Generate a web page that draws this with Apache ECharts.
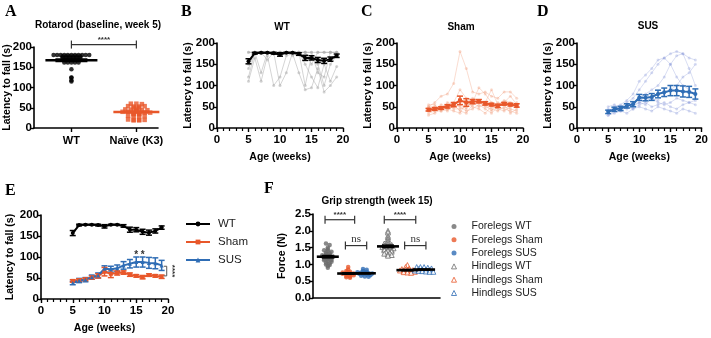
<!DOCTYPE html>
<html>
<head>
<meta charset="utf-8">
<script src="https://cdn.jsdelivr.net/npm/echarts@6/dist/echarts.min.js"></script>
<style>
  html, body { margin: 0; padding: 0; background: #fff; }
  #chart { width: 711px; height: 338px; }
</style>
</head>
<body>
<div id="chart"></div>
<script>
// ---- data ----
const weeks = [5, 6, 7, 8, 9, 10, 11, 12, 13, 14, 15, 16, 17, 18, 19];

// A: rotarod baseline (week 5)
const rotarodWT = [180, 180, 180, 180, 180, 180, 180, 180, 180, 180, 180, 177, 177, 177, 177, 177, 177,
  173, 173, 173, 173, 173, 173, 168, 168, 168, 168, 168, 162, 162, 162, 162, 162, 145, 125, 124, 118, 115];
const rotarodK3 = [60, 60, 59, 54, 53, 53, 54, 50, 50, 49, 46, 45, 45, 44, 44, 41, 40, 40, 39, 39, 38, 38,
  35, 35, 34, 34, 30, 30, 29, 29, 21, 20, 20, 20, 19, 19];

// group means +- SEM (B-E)
const wtMean = [157, 176, 177, 177, 176, 173, 177, 177, 174, 165, 165, 160, 158, 162, 170];
const wtSem = [6, 2, 1, 1, 2, 4, 1, 1, 3, 6, 5, 6, 6, 5, 4];
const shamMean = [43, 45, 47, 51, 55, 65, 60, 62, 63, 58, 55, 52, 57, 55, 53];
const shamSem = [3, 3, 3, 4, 5, 10, 9, 5, 4, 4, 3, 4, 3, 3, 4];
const susMean = [38, 44, 46, 52, 56, 72, 71, 73, 80, 84, 88, 88, 86, 85, 80];
const susSem = [4, 5, 5, 5, 6, 7, 7, 8, 9, 10, 12, 12, 13, 13, 12];

// individual mice
const wtMice = [
  [110, 165, 110, 170, 100, 120, 170, 175, 130, 90, 95, 140, 85, 100, 120],
  [150, 178, 178, 160, 178, 100, 130, 178, 178, 150, 120, 95, 150, 110, 145],
  [120, 178, 178, 178, 178, 178, 178, 178, 178, 100, 170, 150, 100, 150, 170],
  [178, 178, 130, 178, 178, 178, 178, 170, 178, 178, 150, 178, 178, 178, 178],
  [140, 178, 178, 178, 178, 178, 178, 178, 178, 178, 178, 130, 120, 178, 178],
  [178, 178, 178, 178, 178, 178, 178, 178, 178, 178, 178, 178, 178, 178, 178]
];
const shamMice = [
  [50, 60, 75, 80, 105, 180, 140, 85, 80, 85, 75, 70, 85, 85, 70],
  [40, 45, 55, 50, 60, 90, 70, 60, 95, 80, 60, 55, 60, 75, 55],
  [35, 40, 40, 45, 50, 55, 45, 70, 65, 60, 90, 55, 65, 60, 50],
  [50, 50, 45, 60, 55, 40, 35, 55, 60, 50, 45, 40, 50, 45, 40],
  [45, 40, 50, 45, 40, 35, 60, 50, 45, 35, 50, 45, 40, 50, 60],
  [30, 35, 45, 40, 55, 50, 40, 45, 55, 45, 35, 50, 45, 40, 35],
  [55, 55, 40, 55, 45, 45, 50, 60, 50, 55, 40, 60, 55, 35, 45]
];
const susMice = [
  [35, 45, 50, 60, 70, 90, 110, 130, 150, 165, 175, 180, 175, 165, 160],
  [40, 50, 55, 65, 80, 110, 125, 140, 160, 165, 150, 120, 100, 90, 80],
  [30, 40, 45, 55, 60, 70, 80, 90, 100, 120, 150, 170, 175, 140, 100],
  [45, 40, 50, 45, 50, 60, 55, 70, 65, 80, 90, 100, 120, 130, 150],
  [50, 55, 45, 50, 45, 55, 60, 50, 55, 60, 50, 45, 55, 60, 65],
  [30, 35, 40, 35, 45, 50, 45, 40, 50, 45, 40, 35, 45, 40, 35],
  [40, 45, 40, 50, 55, 60, 65, 70, 60, 55, 60, 70, 65, 60, 55]
];

// F: grip strength (week 15), N
const gripGroups = ['Forelegs WT', 'Forelegs Sham', 'Forelegs SUS', 'Hindlegs WT', 'Hindlegs Sham', 'Hindlegs SUS'];
const foreWT = [1.62, 1.58, 1.5, 1.45, 1.42, 1.4, 1.38, 1.35, 1.33, 1.3, 1.28, 1.27, 1.25, 1.24, 1.23,
  1.22, 1.2, 1.18, 1.17, 1.15, 1.13, 1.12, 1.1, 1.08, 1.05, 1.03, 1.0, 0.98, 0.95, 0.9];
const foreSham = [0.92, 0.85, 0.8, 0.78, 0.76, 0.75, 0.74, 0.73, 0.72, 0.71, 0.7, 0.68, 0.66, 0.64, 0.62, 0.6];
const foreSUS = [0.86, 0.84, 0.8, 0.78, 0.77, 0.76, 0.75, 0.74, 0.73, 0.72, 0.71, 0.7, 0.68, 0.66, 0.64, 0.63];
const hindWT = [2.0, 1.95, 1.85, 1.8, 1.75, 1.7, 1.65, 1.62, 1.6, 1.58, 1.56, 1.55, 1.54, 1.52, 1.5, 1.5,
  1.48, 1.46, 1.45, 1.43, 1.42, 1.4, 1.38, 1.36, 1.34, 1.32, 1.3, 1.28, 1.26];
const hindSham = [0.98, 0.92, 0.88, 0.86, 0.85, 0.84, 0.83, 0.82, 0.81, 0.8, 0.79, 0.78, 0.77, 0.76, 0.75];
const hindSUS = [0.92, 0.92, 0.92, 0.9, 0.88, 0.86, 0.85, 0.84, 0.83, 0.82, 0.81, 0.8, 0.79, 0.78, 0.78];

// ---- helpers ----
const sans = '"Liberation Sans", Arial, sans-serif';
const serif = '"Liberation Serif", "Times New Roman", serif';
const BLACK = '#000';
const ORANGE = '#e8572a';
const BLUE = '#2f6db5';

const mean = a => a.reduce((s, v) => s + v, 0) / a.length;
const sem = a => {
  const m = mean(a);
  return Math.sqrt(a.reduce((s, v) => s + (v - m) * (v - m), 0) / (a.length - 1)) / Math.sqrt(a.length);
};

// simple beeswarm: points in the same value bin are spread sideways
function swarm(vals, center, bin, step) {
  const rows = {};
  vals.forEach((v, i) => {
    const k = Math.round(v / bin);
    (rows[k] = rows[k] || []).push(i);
  });
  const out = [];
  Object.values(rows).forEach(idx => {
    idx.forEach((i, j) => { out[i] = [center + (j - (idx.length - 1) / 2) * step, vals[i]]; });
  });
  return out;
}

function errBars(gi, means, errs, color, cap, z) {
  return {
    type: 'custom', xAxisIndex: gi, yAxisIndex: gi, silent: true, z: z || 4,
    data: weeks.map((w, i) => [w, means[i], errs[i]]),
    renderItem: (p, api) => {
      const x = api.value(0), m = api.value(1), e = api.value(2);
      const t = api.coord([x, m + e]), b = api.coord([x, m - e]);
      const st = { stroke: color, lineWidth: 1.5 };
      return {
        type: 'group', children: [
          { type: 'line', shape: { x1: t[0], y1: t[1], x2: b[0], y2: b[1] }, style: st },
          { type: 'line', shape: { x1: t[0] - cap, y1: t[1], x2: t[0] + cap, y2: t[1] }, style: st },
          { type: 'line', shape: { x1: b[0] - cap, y1: b[1], x2: b[0] + cap, y2: b[1] }, style: st }
        ]
      };
    }
  };
}

function meanBar(gi, center, vals, color, halfW, cap, lw) {
  return {
    type: 'custom', xAxisIndex: gi, yAxisIndex: gi, silent: true, z: 6,
    data: [[center, mean(vals), sem(vals)]],
    renderItem: (p, api) => {
      const x = api.value(0), m = api.value(1), e = api.value(2);
      const c = api.coord([x, m]), t = api.coord([x, m + e]), b = api.coord([x, m - e]);
      const st = { stroke: color, lineWidth: lw };
      return {
        type: 'group', children: [
          { type: 'line', shape: { x1: c[0] - halfW, y1: c[1], x2: c[0] + halfW, y2: c[1] }, style: { stroke: color, lineWidth: lw + 1 } },
          { type: 'line', shape: { x1: t[0], y1: t[1], x2: b[0], y2: b[1] }, style: st },
          { type: 'line', shape: { x1: t[0] - cap, y1: t[1], x2: t[0] + cap, y2: t[1] }, style: st },
          { type: 'line', shape: { x1: b[0] - cap, y1: b[1], x2: b[0] + cap, y2: b[1] }, style: st }
        ]
      };
    }
  };
}

// significance brackets |----| with text above
function brackets(gi, list) {
  return {
    type: 'custom', xAxisIndex: gi, yAxisIndex: gi, silent: true, z: 7, clip: false,
    data: list.map(b => [b.x1, b.y, b.x2]),
    renderItem: (p, api) => {
      const b = list[p.dataIndex];
      const a = api.coord([b.x1, b.y]), c = api.coord([b.x2, b.y]);
      const st = { stroke: '#333', lineWidth: 1.2 };
      return {
        type: 'group', children: [
          { type: 'line', shape: { x1: a[0], y1: a[1], x2: c[0], y2: c[1] }, style: st },
          { type: 'line', shape: { x1: a[0], y1: a[1] - 4, x2: a[0], y2: a[1] + 4 }, style: st },
          { type: 'line', shape: { x1: c[0], y1: c[1] - 4, x2: c[0], y2: c[1] + 4 }, style: st },
          {
            type: 'text', x: (a[0] + c[0]) / 2, y: a[1] - 1,
            style: { text: b.text, align: 'center', verticalAlign: 'bottom', fill: '#333',
              fontFamily: b.text === 'ns' ? serif : sans, fontWeight: b.text === 'ns' ? 'normal' : 'bold',
              fontSize: b.text === 'ns' ? 11 : 8 }
          }
        ]
      };
    }
  };
}

function miceLines(gi, mice, color) {
  return mice.map(m => ({
    type: 'line', xAxisIndex: gi, yAxisIndex: gi, silent: true, z: 2,
    data: weeks.map((w, i) => [w, m[i]]),
    symbol: 'circle', symbolSize: 3,
    lineStyle: { color: color, width: 1 },
    itemStyle: { color: color }
  }));
}

function meanLine(gi, name, means, color, symbol, size) {
  return {
    type: 'line', name: name, xAxisIndex: gi, yAxisIndex: gi, silent: true, z: 5,
    data: weeks.map((w, i) => [w, means[i]]),
    symbol: symbol, symbolSize: size,
    lineStyle: { color: color, width: 2 },
    itemStyle: { color: color }
  };
}

// ---- axes ----
const axisLine = { show: true, onZero: false, lineStyle: { color: BLACK, width: 1.6 } };
const axisTick = { show: true, length: 4, lineStyle: { color: BLACK, width: 1.4 } };
const tickLabel = { color: BLACK, fontFamily: sans, fontWeight: 'bold', fontSize: 11.5, margin: 2 };
const nameStyle = { color: BLACK, fontFamily: sans, fontWeight: 'bold', fontSize: 10.5 };

function weekAxis(gi) {
  return {
    type: 'value', gridIndex: gi, min: 0, max: 20, interval: 5,
    name: 'Age (weeks)', nameLocation: 'middle', nameGap: 24, nameTextStyle: nameStyle,
    axisLine, axisTick, axisLabel: Object.assign({}, tickLabel, { margin: 6 }),
    minorTick: { show: true, splitNumber: 5, length: 3, lineStyle: { color: BLACK, width: 1.2 } },
    splitLine: { show: false }
  };
}
function latencyAxis(gi, gap) {
  return {
    type: 'value', gridIndex: gi, min: 0, max: 200, interval: 50,
    name: 'Latency to fall (s)', nameLocation: 'middle', nameGap: gap, nameMoveOverlap: false,
    nameTextStyle: nameStyle,
    axisLine, axisTick, axisLabel: tickLabel, splitLine: { show: false }
  };
}

// F group positions along x
const gripPos = [1, 2.1, 3, 4.25, 5.3, 6.2];
const gripData = [foreWT, foreSham, foreSUS, hindWT, hindSham, hindSUS];
const gripColor = ['#6b6b6b', ORANGE, BLUE, '#6b6b6b', ORANGE, BLUE];
const gripStyle = g => (g >= 3
  ? { color: '#fff', borderColor: gripColor[g], borderWidth: 1 }
  : { color: gripColor[g] });

const series = [];

// A
series.push({
  type: 'scatter', xAxisIndex: 0, yAxisIndex: 0, silent: true, z: 3,
  data: swarm(rotarodWT, 0, 3, 0.055), symbol: 'circle', symbolSize: 4.5, itemStyle: { color: BLACK }
});
series.push({
  type: 'scatter', xAxisIndex: 0, yAxisIndex: 0, silent: true, z: 3,
  data: swarm(rotarodK3, 1, 3, 0.085), symbol: 'rect', symbolSize: 4.5, itemStyle: { color: ORANGE }
});
series.push(meanBar(0, 0, rotarodWT, BLACK, 26, 16, 1.6));
series.push(meanBar(0, 1, rotarodK3, ORANGE, 23, 12, 1.6));
series.push(brackets(0, [{ x1: 0, x2: 1, y: 206, text: '****' }]));

// B, C, D
series.push(...miceLines(1, wtMice, 'rgba(170,170,170,0.5)'));
series.push(meanLine(1, 'WT mean', wtMean, BLACK, 'circle', 4));
series.push(errBars(1, wtMean, wtSem, BLACK, 3));
series.push(...miceLines(2, shamMice, 'rgba(240,140,100,0.3)'));
series.push(meanLine(2, 'Sham mean', shamMean, ORANGE, 'rect', 4));
series.push(errBars(2, shamMean, shamSem, ORANGE, 3));
series.push(...miceLines(3, susMice, 'rgba(130,145,215,0.3)'));
series.push(meanLine(3, 'SUS mean', susMean, BLUE, 'circle', 4));
series.push(errBars(3, susMean, susSem, BLUE, 3));

// E
series.push(meanLine(4, 'WT', wtMean, BLACK, 'circle', 4));
series.push(errBars(4, wtMean, wtSem, BLACK, 3));
series.push(meanLine(4, 'Sham', shamMean, ORANGE, 'rect', 4));
series.push(errBars(4, shamMean, shamSem, ORANGE, 3, 5));
series.push(meanLine(4, 'SUS', susMean, BLUE, 'triangle', 4));
series.push(errBars(4, susMean, susSem, BLUE, 3));
const starsE = [{ x: 15, y: 103 }, { x: 16, y: 103 }];
series.push({
  type: 'custom', xAxisIndex: 4, yAxisIndex: 4, silent: true, z: 7, clip: false,
  data: starsE.map(s => [s.x, s.y]),
  renderItem: (p, api) => {
    const c = api.coord([api.value(0), api.value(1)]);
    return { type: 'text', x: c[0], y: c[1], style: { text: '*', align: 'center', verticalAlign: 'middle', fill: '#333', fontFamily: sans, fontWeight: 'bold', fontSize: 10 } };
  }
});
// bracket Sham vs SUS at the right end
series.push({
  type: 'custom', xAxisIndex: 4, yAxisIndex: 4, silent: true, z: 7, clip: false,
  data: [[19.8, 55, 78]],
  renderItem: (p, api) => {
    const a = api.coord([api.value(0), api.value(1)]), b = api.coord([api.value(0), api.value(2)]);
    const st = { stroke: '#555', lineWidth: 1 };
    return {
      type: 'group', children: [
        { type: 'line', shape: { x1: a[0], y1: a[1], x2: b[0], y2: b[1] }, style: st },
        { type: 'line', shape: { x1: a[0] - 3, y1: a[1], x2: a[0], y2: a[1] }, style: st },
        { type: 'line', shape: { x1: b[0] - 3, y1: b[1], x2: b[0], y2: b[1] }, style: st },
        { type: 'text', x: a[0] + 5, y: (a[1] + b[1]) / 2, rotation: -Math.PI / 2,
          style: { text: '****', align: 'center', verticalAlign: 'middle', fill: '#333', fontFamily: sans, fontWeight: 'bold', fontSize: 8 } }
      ]
    };
  }
});

// F
gripData.forEach((vals, g) => {
  const hind = g >= 3;
  series.push({
    type: 'scatter', name: gripGroups[g], xAxisIndex: 5, yAxisIndex: 5, silent: true, z: 3,
    data: swarm(vals, gripPos[g], 0.05, 0.2),
    symbol: hind ? 'triangle' : 'circle', symbolSize: hind ? 5 : 4.5,
    itemStyle: gripStyle(g)
  });
  series.push(meanBar(5, gripPos[g], vals, BLACK, 11, 6, 1.6));
});
series.push(brackets(5, [
  { x1: 0.85, x2: 2.45, y: 2.33, text: '****' },
  { x1: 1.95, x2: 3.1, y: 1.56, text: 'ns' },
  { x1: 4.05, x2: 5.75, y: 2.33, text: '****' },
  { x1: 5.15, x2: 6.3, y: 1.56, text: 'ns' }
]));

const option = {
  animation: false,
  backgroundColor: '#fff',
  grid: [
    { left: 34, top: 47, width: 124, height: 81 },
    { left: 217, top: 43, width: 126, height: 85 },
    { left: 397, top: 43, width: 126, height: 85 },
    { left: 577, top: 43, width: 126, height: 85 },
    { left: 41, top: 215, width: 127, height: 84 },
    { left: 313, top: 214, width: 127, height: 84 }
  ],
  xAxis: [
    {
      type: 'value', gridIndex: 0, min: -0.576, max: 1.333,
      axisLine,
      axisTick: Object.assign({ customValues: [0, 1] }, axisTick),
      axisLabel: Object.assign({}, tickLabel, {
        margin: 7, fontSize: 11, customValues: [0, 1],
        formatter: v => (Math.round(v) === 0 ? 'WT' : 'Naïve (K3)')
      }),
      splitLine: { show: false }
    },
    weekAxis(1), weekAxis(2), weekAxis(3), weekAxis(4),
    {
      type: 'value', gridIndex: 5, min: 0.2, max: 7.06,
      axisLine, axisTick: { show: false }, axisLabel: { show: false }, splitLine: { show: false }
    }
  ],
  yAxis: [
    latencyAxis(0, 21), latencyAxis(1, 23), latencyAxis(2, 23), latencyAxis(3, 23), latencyAxis(4, 25),
    {
      type: 'value', gridIndex: 5, min: 0, max: 2.5, interval: 0.5,
      name: 'Force (N)', nameLocation: 'middle', nameGap: 25, nameMoveOverlap: false,
      nameTextStyle: nameStyle,
      axisLine, axisTick,
      axisLabel: Object.assign({}, tickLabel, { formatter: v => v.toFixed(1) }),
      splitLine: { show: false }
    }
  ],
  legend: [
    {
      data: ['WT', 'Sham', 'SUS'], orient: 'vertical', left: 180, top: 213,
      itemWidth: 24, itemHeight: 6, itemGap: 6, selectedMode: false,
      textStyle: { fontFamily: sans, fontSize: 11.5, color: '#222', padding: [0, 0, 0, 3] }
    },
    {
      data: gripGroups.map((n, g) => ({
        name: n, icon: g >= 3 ? 'triangle' : 'circle', itemStyle: gripStyle(g)
      })),
      orient: 'vertical', left: 446, top: 216,
      itemWidth: 5, itemHeight: 5, itemGap: 2.3, selectedMode: false,
      textStyle: { fontFamily: sans, fontSize: 10.5, color: '#222', padding: [0, 0, 0, 10] }
    }
  ],
  graphic: [
    { type: 'text', left: 5, top: 4, style: { text: 'A', fontFamily: serif, fontWeight: 'bold', fontSize: 16, fill: BLACK } },
    { type: 'text', left: 181, top: 4, style: { text: 'B', fontFamily: serif, fontWeight: 'bold', fontSize: 16, fill: BLACK } },
    { type: 'text', left: 361, top: 4, style: { text: 'C', fontFamily: serif, fontWeight: 'bold', fontSize: 16, fill: BLACK } },
    { type: 'text', left: 537, top: 4, style: { text: 'D', fontFamily: serif, fontWeight: 'bold', fontSize: 16, fill: BLACK } },
    { type: 'text', left: 5, top: 183, style: { text: 'E', fontFamily: serif, fontWeight: 'bold', fontSize: 16, fill: BLACK } },
    { type: 'text', left: 264, top: 181, style: { text: 'F', fontFamily: serif, fontWeight: 'bold', fontSize: 16, fill: BLACK } },
    { type: 'text', x: 98, y: 25, style: { text: 'Rotarod (baseline, week 5)', align: 'center', verticalAlign: 'middle', fontFamily: sans, fontWeight: 'bold', fontSize: 10, fill: BLACK } },
    { type: 'text', x: 282, y: 27, style: { text: 'WT', align: 'center', verticalAlign: 'middle', fontFamily: sans, fontWeight: 'bold', fontSize: 10, fill: BLACK } },
    { type: 'text', x: 461, y: 27, style: { text: 'Sham', align: 'center', verticalAlign: 'middle', fontFamily: sans, fontWeight: 'bold', fontSize: 10, fill: BLACK } },
    { type: 'text', x: 648, y: 26, style: { text: 'SUS', align: 'center', verticalAlign: 'middle', fontFamily: sans, fontWeight: 'bold', fontSize: 10, fill: BLACK } },
    { type: 'text', x: 377, y: 201, style: { text: 'Grip strength (week 15)', align: 'center', verticalAlign: 'middle', fontFamily: sans, fontWeight: 'bold', fontSize: 10, fill: BLACK } }
  ],
  series: series
};

const chart = echarts.init(document.getElementById('chart'));
chart.setOption(option);
</script>
</body>
</html>
